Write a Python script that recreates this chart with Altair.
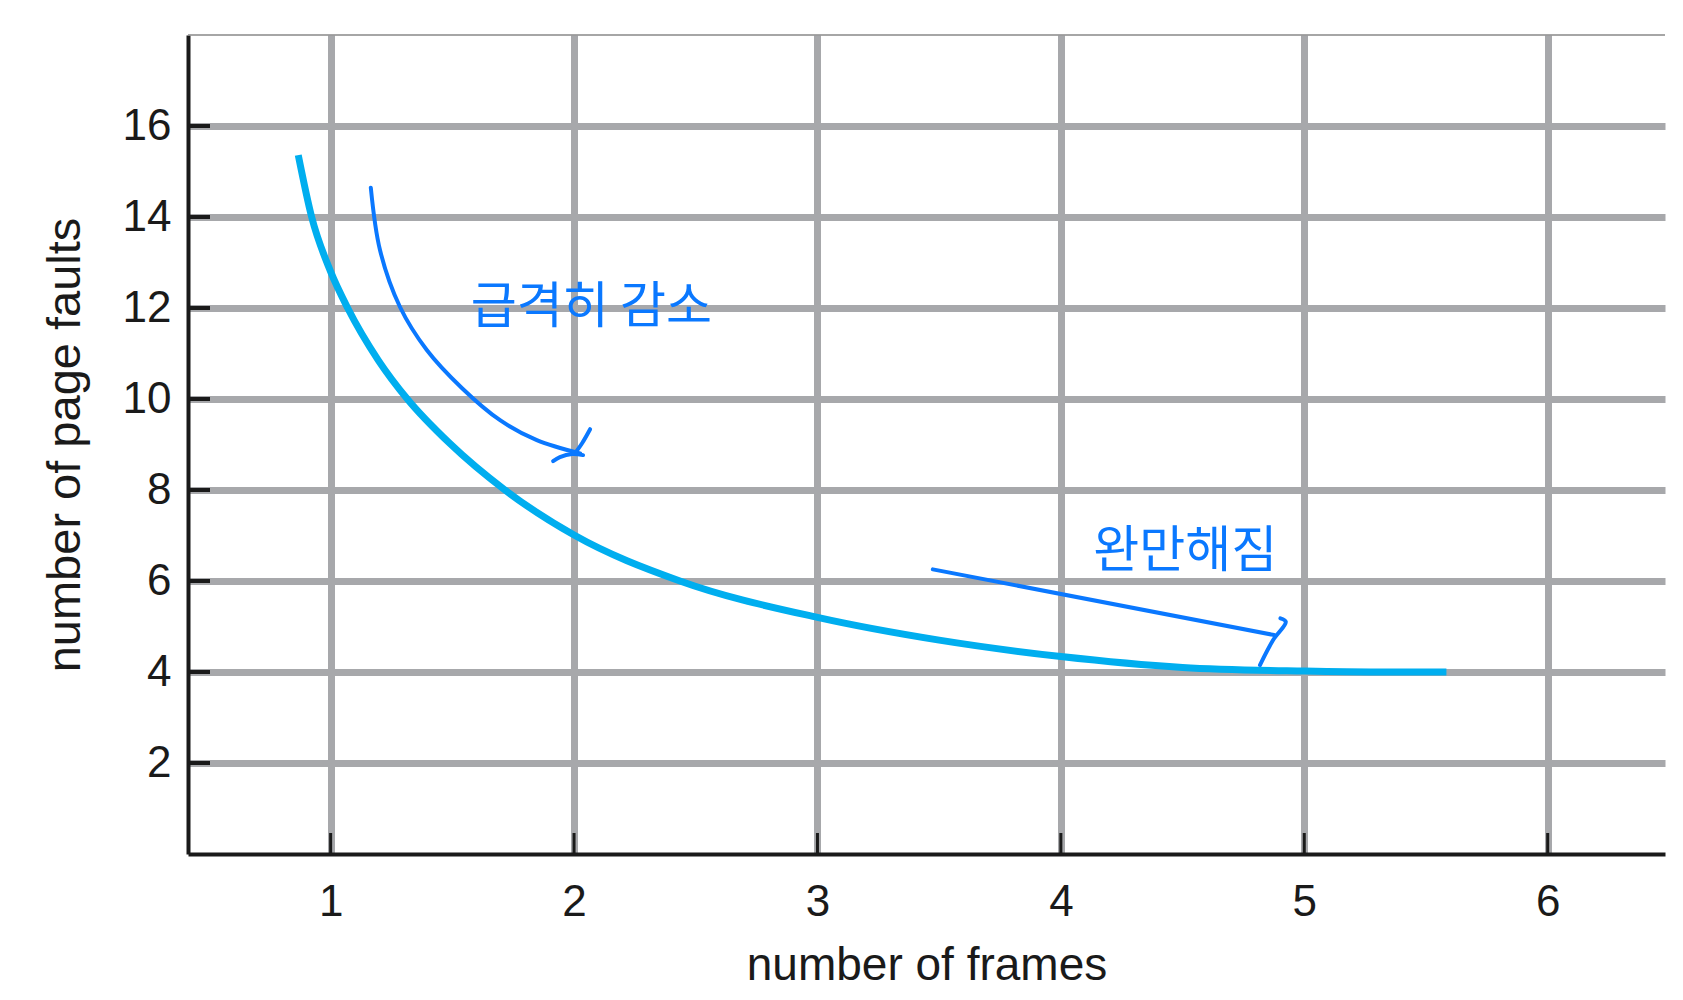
import altair as alt
import pandas as pd

# ---- data ----
frames = [0.867, 0.922, 1.0, 1.07, 1.196, 1.315, 1.49, 1.716, 2.0, 2.435, 3.0, 3.5, 4.0, 4.5, 5.0, 5.3, 5.584]
faults = [15.36, 14.0, 12.8, 12.0, 10.85, 10.0, 9.02, 8.0, 7.01, 6.0, 5.2, 4.7, 4.34, 4.1, 4.02, 4.0, 4.0]

x_ticks = [1, 2, 3, 4, 5, 6]
y_ticks = [2, 4, 6, 8, 10, 12, 14, 16]

# hand-drawn annotation strokes (data coordinates)
arrow1_x = [1.165, 1.203, 1.285, 1.395, 1.540, 1.696, 1.847, 2.025]
arrow1_y = [14.645, 13.268, 12.022, 11.077, 10.237, 9.534, 9.095, 8.803]
head1a_x = [2.066, 2.033, 2.004]
head1a_y = [9.336, 9.028, 8.808]
head1b_x = [1.914, 1.942, 1.992, 2.037]
head1b_y = [8.635, 8.723, 8.789, 8.767]
arrow2_x = [3.474, 4.876]
arrow2_y = [6.255, 4.812]
head2_x = [4.902, 4.924, 4.872, 4.818]
head2_y = [5.179, 5.104, 4.702, 4.153]

note_text = ["급격히 감소", "완만해짐"]
note_x = [2.071, 4.511]
note_y = [11.99, 6.63]

X_DOMAIN = [0.414, 6.482]
Y_DOMAIN = [0, 18]
W, H = 1477, 819

GRID = "#a7a8ab"
INK = "#1a1a1a"
CYAN = "#00aeef"
BLUE = "#0a78ff"
FONT = "Liberation Sans"

xaxis = alt.Axis(values=x_ticks, title="number of frames", grid=True, gridColor=GRID, gridWidth=7,
                 gridOpacity=1, ticks=False, domainColor=INK, domainWidth=4, labelFont=FONT,
                 labelFontSize=44, labelColor=INK, labelPadding=26, titleFont=FONT, titleFontSize=46,
                 titleFontWeight="normal", titleColor=INK, titlePadding=19, format="d", labelFlush=False)
yaxis = alt.Axis(values=y_ticks, title="number of page faults", grid=True, gridColor=GRID, gridWidth=7,
                 gridOpacity=1, ticks=False, domainColor=INK, domainWidth=4, labelFont=FONT,
                 labelFontSize=44, labelColor=INK, labelPadding=17, titleFont=FONT, titleFontSize=47,
                 titleFontWeight="normal", titleColor=INK, titlePadding=33, format="d")

XS = alt.Scale(domain=X_DOMAIN, nice=False, zero=False)
YS = alt.Scale(domain=Y_DOMAIN, nice=False, zero=False)
X = alt.X("x:Q", scale=XS, axis=xaxis)
Y = alt.Y("y:Q", scale=YS, axis=yaxis)

curve_df = pd.DataFrame({"x": frames, "y": faults})

strokes = []
for sid, (xs, ys) in enumerate([(arrow1_x, arrow1_y), (head1a_x, head1a_y), (head1b_x, head1b_y),
                                 (arrow2_x, arrow2_y), (head2_x, head2_y)]):
    for i, (a, b) in enumerate(zip(xs, ys)):
        strokes.append({"sid": sid, "i": i, "x": a, "y": b})
strokes_df = pd.DataFrame(strokes)

notes_df = pd.DataFrame({"x": note_x, "y": note_y, "t": note_text})
xt_df = pd.DataFrame({"x": x_ticks})
yt_df = pd.DataFrame({"y": y_ticks})
top_df = pd.DataFrame({"y": [Y_DOMAIN[1]]})

curve = alt.Chart(curve_df).mark_line(color=CYAN, strokeWidth=7, interpolate="monotone").encode(x=X, y=Y)

top_rule = alt.Chart(top_df).mark_rule(color="#888888", strokeWidth=1.5).encode(y=Y)

xticks = alt.Chart(xt_df).mark_rule(color=INK, strokeWidth=3).encode(
    x=X, y=alt.value(H), y2=alt.value(H - 21))
yticks = alt.Chart(yt_df).mark_rule(color=INK, strokeWidth=4).encode(
    y=Y, x=alt.value(0), x2=alt.value(22))

ann = alt.Chart(strokes_df).mark_line(color=BLUE, strokeWidth=4, strokeCap="round",
                                      strokeJoin="round", interpolate="catmull-rom").encode(
    x=X, y=Y, detail="sid:N", order="i:Q")

notes = alt.Chart(notes_df).mark_text(font="Noto Sans CJK KR", fontSize=50, color=BLUE,
                                      align="center", baseline="middle").encode(x=X, y=Y, text="t:N")

chart = alt.layer(top_rule, curve, ann, notes, xticks, yticks).properties(
    width=W, height=H,
    autosize=alt.AutoSizeParams(type="none"),
    padding={"left": 180, "top": 27, "right": 5, "bottom": 137},
    background="white",
).configure_view(stroke=None)

chart.save("out.html", embed_options={"renderer": "svg", "actions": False})
